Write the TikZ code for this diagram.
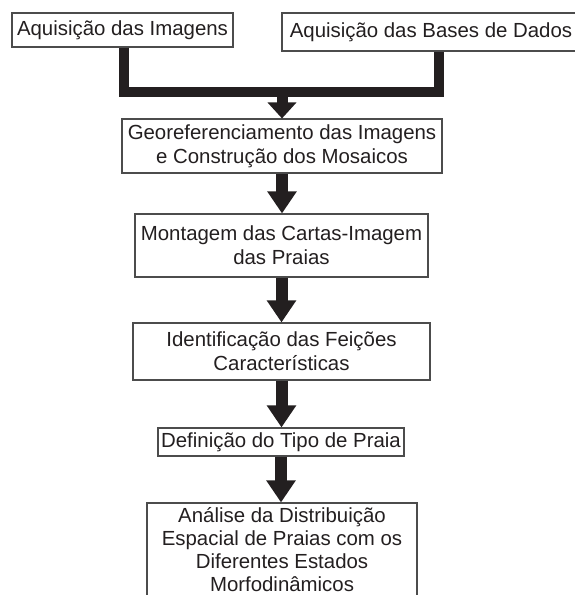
\documentclass[tikz,border=0pt]{standalone}
\usepackage{fontspec}
\setmainfont{Liberation Sans}
\usetikzlibrary{arrows.meta,calc}
\definecolor{ink}{HTML}{231F20}
\tikzset{
  box/.style={draw=black!70, line width=1.1pt, rectangle, inner sep=0pt, align=center,
    font=\fontsize{20.4}{24}\selectfont, text=ink},
  joinline/.style={draw=ink, line width=10pt, line cap=butt, line join=miter},
  bigarrow/.style={draw=ink, line width=12pt, line cap=butt,
    -{Triangle[width=28pt,length=22pt]}, fill=ink},
  shortarrow/.style={draw=ink, line width=11pt, line cap=butt,
    -{Triangle[width=28pt,length=16pt]}, fill=ink}
}
\begin{document}
\begin{tikzpicture}[x=1pt,y=-1pt]
\useasboundingbox (0,0) rectangle (574,595);
\fill[white] (0,0) rectangle (574,595);
\node[box, minimum width=221pt, minimum height=34pt] (b1) at (122.5,30) {Aquisição das Imagens};
\node[box, minimum width=298pt, minimum height=38pt] (b2) at (431,32) {Aquisição das Bases de Dados};
\node[box, minimum width=320pt, minimum height=54pt] (b3) at (282,146) {Georeferenciamento das Imagens\\e Construção dos Mosaicos};
\node[box, minimum width=293pt, minimum height=63pt] (b4) at (281.5,245.5) {Montagem das Cartas-Imagem\\das Praias};
\node[box, minimum width=297pt, minimum height=57pt] (b5) at (281.5,351.5) {Identificação das Feições\\Características};
\node[box, minimum width=246pt, minimum height=28pt] (b6) at (281,442) {Definição do Tipo de Praia};
\node[box, minimum width=270pt, minimum height=94pt, font=\fontsize{20.4}{23}\selectfont] (b7) at (282,550) {Análise da Distribuição\\Espacial de Praias com os\\Diferentes Estados\\Morfodinâmicos};
\coordinate (j) at (282,92);
\draw[joinline] ([xshift=1.5pt]b1.south) |- (j) -| ([xshift=8pt]b2.south);
\draw[shortarrow] (j) -- (b3.north);
\draw[bigarrow] (b3.south) -- (b3.south |- b4.north);
\draw[bigarrow] (b4.south) -- (b4.south |- b5.north);
\draw[bigarrow] (b5.south) -- (b5.south |- b6.north);
\draw[bigarrow] (b6.south) -- (b6.south |- b7.north);
\end{tikzpicture}
\end{document}
